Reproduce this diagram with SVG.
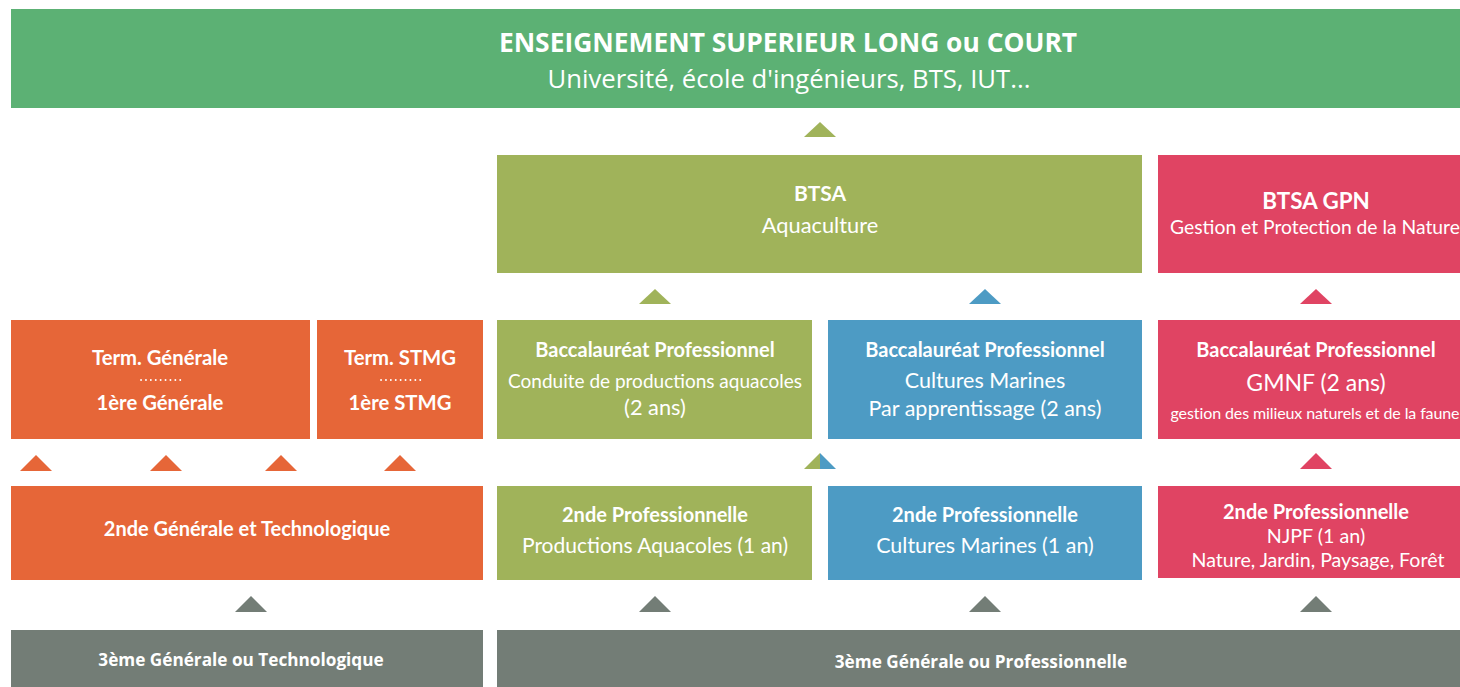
<svg xmlns="http://www.w3.org/2000/svg" width="1460" height="687" viewBox="0 0 1460 687">
<style>
.green{fill:#5cb174}.olive{fill:#a0b35a}.red{fill:#e04463}.orange{fill:#e66638}.blue{fill:#4d9bc4}.gray{fill:#737d76}
text{fill:#ffffff;text-anchor:middle;font-family:Lato,"Open Sans",sans-serif}
.b{font-weight:bold;font-size:20px}
.t{font-weight:bold;font-size:20.3px}
.r{font-size:21px}
.ban{font-family:"Open Sans",sans-serif}
.g{font-family:"Open Sans",sans-serif;font-weight:bold;font-size:17.2px}
.dots{stroke:#ffffff;stroke-width:1.8;stroke-dasharray:0.1 4.8;stroke-linecap:round}
</style>
<rect width="1460" height="687" fill="#ffffff"/>
<g id="banner">
<rect class="green" x="11" y="9" width="1449" height="99"/>
<text class="ban" x="788" y="52" style="font-size:26.4px;font-weight:bold">ENSEIGNEMENT SUPERIEUR LONG ou COURT</text>
<text class="ban" x="789" y="88" style="font-size:25.7px">Université, école d'ingénieurs, BTS, IUT...</text>
</g>
<g id="btsa">
<rect class="olive" x="497" y="155" width="645" height="118"/>
<text class="b" x="820" y="201" style="font-size:21px">BTSA</text>
<text class="r" x="820" y="233" style="font-size:21.8px">Aquaculture</text>
</g>
<g id="btsa-gpn">
<rect class="red" x="1158" y="155" width="302" height="118"/>
<text class="b" x="1316" y="209" style="font-size:22.4px">BTSA GPN</text>
<text class="r" x="1315" y="234" style="font-size:19.3px">Gestion et Protection de la Nature</text>
</g>
<g id="term-generale">
<rect class="orange" x="11" y="320" width="299" height="119"/>
<text class="t" x="160" y="365">Term. Générale</text>
<line class="dots" x1="141" y1="380" x2="181" y2="380"/>
<text class="t" x="160" y="410">1ère Générale</text>
</g>
<g id="term-stmg">
<rect class="orange" x="317" y="320" width="166" height="119"/>
<text class="t" x="400" y="365">Term. STMG</text>
<line class="dots" x1="381" y1="380" x2="421" y2="380"/>
<text class="t" x="400" y="410">1ère STMG</text>
</g>
<g id="bac-cpa">
<rect class="olive" x="497" y="320" width="315" height="119"/>
<text class="b" x="655" y="357">Baccalauréat Professionnel</text>
<text class="r" x="655" y="388" style="font-size:19px">Conduite de productions aquacoles</text>
<text class="r" x="655" y="415" style="font-size:21.8px">(2 ans)</text>
</g>
<g id="bac-cm">
<rect class="blue" x="828" y="320" width="314" height="119"/>
<text class="b" x="985" y="357">Baccalauréat Professionnel</text>
<text class="r" x="985" y="388" style="font-size:21.5px">Cultures Marines</text>
<text class="r" x="985" y="416" style="font-size:21.5px">Par apprentissage (2 ans)</text>
</g>
<g id="bac-gmnf">
<rect class="red" x="1158" y="320" width="302" height="119"/>
<text class="b" x="1316" y="357">Baccalauréat Professionnel</text>
<text class="r" x="1316" y="391" style="font-size:23px">GMNF (2 ans)</text>
<text x="1315" y="419" style="font-size:16px;letter-spacing:-0.1px">gestion des milieux naturels et de la faune</text>
</g>
<g id="seconde-gt">
<rect class="orange" x="11" y="486" width="472" height="94"/>
<text class="b" x="247" y="536">2nde Générale et Technologique</text>
</g>
<g id="seconde-pa">
<rect class="olive" x="497" y="486" width="315" height="94"/>
<text class="b" x="655" y="522">2nde Professionnelle</text>
<text class="r" x="655" y="553">Productions Aquacoles (1 an)</text>
</g>
<g id="seconde-cm">
<rect class="blue" x="828" y="486" width="314" height="94"/>
<text class="b" x="985" y="522">2nde Professionnelle</text>
<text class="r" x="985" y="553" style="font-size:21.5px">Cultures Marines (1 an)</text>
</g>
<g id="seconde-njpf">
<rect class="red" x="1158" y="486" width="302" height="92"/>
<text class="b" x="1316" y="519">2nde Professionnelle</text>
<text class="r" x="1316" y="543" style="font-size:19.7px">NJPF (1 an)</text>
<text class="r" x="1318" y="567" style="font-size:19.6px">Nature, Jardin, Paysage, Forêt</text>
</g>
<g id="troisieme-gt">
<rect class="gray" x="11" y="630" width="472" height="57"/>
<text class="g" x="241" y="666">3ème Générale ou Technologique</text>
</g>
<g id="troisieme-gp">
<rect class="gray" x="497" y="630" width="963" height="57"/>
<text class="g" x="981" y="668">3ème Générale ou Professionnelle</text>
</g>
<g id="connectors">
<polygon class="olive" points="804,137 820,122 836,137"/>
<polygon class="olive" points="639,304 655,289 671,304"/>
<polygon class="blue" points="969,304 985,289 1001,304"/>
<polygon class="red" points="1300,304 1316,289 1332,304"/>
<polygon class="orange" points="20,471 36,455 52,471"/>
<polygon class="orange" points="150,471 166,455 182,471"/>
<polygon class="orange" points="265,471 281,455 297,471"/>
<polygon class="orange" points="384,471 400,455 416,471"/>
<polygon class="olive" points="804,469 820,453 820,469"/>
<polygon class="blue" points="820,453 836,469 820,469"/>
<polygon class="red" points="1300,469 1316,453 1332,469"/>
<polygon class="gray" points="235,612 251,596 267,612"/>
<polygon class="gray" points="639,612 655,596 671,612"/>
<polygon class="gray" points="969,612 985,596 1001,612"/>
<polygon class="gray" points="1300,612 1316,596 1332,612"/>
</g>
</svg>
